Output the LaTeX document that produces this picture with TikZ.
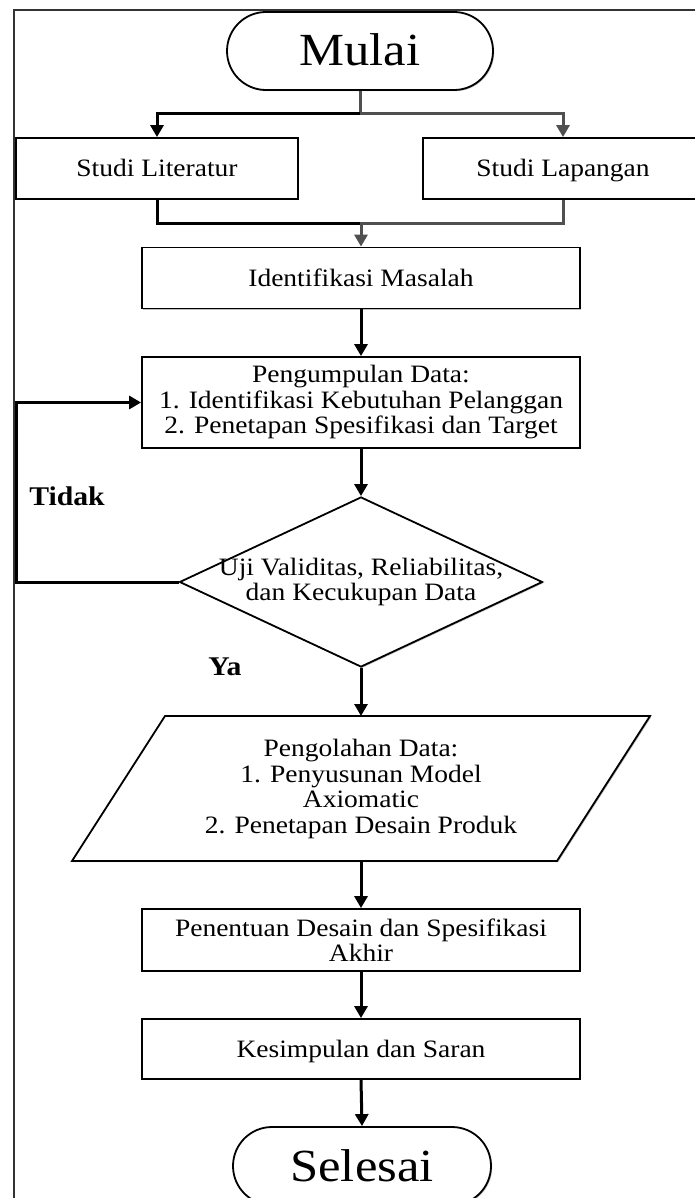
\documentclass[tikz,border=0pt]{standalone}
\usepackage{fontspec}
\setmainfont{Liberation Serif}[FakeStretch=1.1]
\newfontfamily\bigserif{Liberation Serif}[FakeStretch=1.1]
\usetikzlibrary{arrows.meta,shapes.geometric,shadows}
\definecolor{lgray}{HTML}{505050}
\begin{document}
\begin{tikzpicture}[x=1pt,y=-1pt,
  txt/.style={font=\fontsize{25}{25.5}\selectfont,align=center,inner sep=0pt},
  one/.style={text height=21pt,text depth=5pt},
  shad/.style={drop shadow={shadow xshift=1.2pt,shadow yshift=-1.2pt,opacity=0.25,fill=black}},
  box/.style={txt,draw,line width=1.8pt,fill=white,shad},
  term/.style={draw,line width=1.8pt,fill=white,shad,rounded corners=39pt,minimum height=78pt,inner sep=0pt,
    font=\bigserif\fontsize{46}{46}\selectfont,text height=38pt,text depth=8pt},
  conn/.style={line width=3pt},
  arr/.style={conn,-{Triangle[length=12pt,width=13pt]}},
  lbl/.style={font=\fontsize{27}{27}\selectfont\bfseries,inner sep=0pt}]
\useasboundingbox (0,0) rectangle (695,1198);
\fill[white] (0,0) rectangle (695,1198);
\draw[line width=1.2pt,black!80] (14,10) rectangle (710,1220);

% nodes
\node[term,minimum width=266pt] (mulai) at (360,51) {Mulai};
\node[box,one,minimum width=282pt,minimum height=61pt] (lit) at (157,168.5) {Studi Literatur};
\node[box,one,minimum width=280pt,minimum height=61pt] (lap) at (563,168.5) {Studi Lapangan};
\node[box,one,minimum width=438pt,minimum height=61pt] (idm) at (361,278) {Identifikasi Masalah};
\node[box,minimum width=438pt,minimum height=91pt] (kum) at (361,402.5) {Pengumpulan Data:\\1. Identifikasi Kebutuhan Pelanggan\\2. Penetapan Spesifikasi dan Target};
\node[diamond,draw,line width=1.8pt,fill=white,shad,minimum width=363pt,minimum height=170pt,inner sep=0pt] (uji) at (361,582) {};
\node[txt] (ujitext) at (361,582) {Uji Validitas, Reliabilitas,\\dan Kecukupan Data};

\draw[line width=1.8pt,fill=white,shad] (165,716) -- (650,716) -- (557,861) -- (72,861) -- cycle;
\coordinate (olahtop) at (361,716);
\coordinate (olahbot) at (361,861);
\node[txt] (olah) at (361,789) {Pengolahan Data:\\1. Penyusunan Model\\Axiomatic\\2. Penetapan Desain Produk};

\node[box,minimum width=438pt,minimum height=62pt] (pen) at (361,940) {Penentuan Desain dan Spesifikasi\\Akhir};
\node[box,one,minimum width=438pt,minimum height=60pt] (kes) at (361,1049) {Kesimpulan dan Saran};
\node[term,minimum width=258pt] (sel) at (362,1166) {Selesai};

\node[lbl] (tidak) at (67,496) {Tidak};
\node[lbl] (ya) at (225,667) {Ya};

% connectors
\coordinate (split) at (360,114);
\coordinate (merge) at (361,224);
\draw[conn,lgray] (mulai.south) -- (split);
\draw[arr] (split) -| (lit.north);
\draw[arr,lgray] (split) -| (lap.north);
\draw[conn] (lit.south) |- (merge);
\draw[arr,lgray] (lap.south) |- (merge) -- (idm.north);
\draw[arr] (idm.south) -- (kum.north);
\draw[arr] (kum.south) -- (uji.north);
\coordinate (loopc) at (16,582);
\draw[arr] (uji.west) -- (loopc) |- (kum.west);
\draw[arr] (uji.south) -- (olahtop);
\draw[arr] (olahbot) -- (pen.north);
\draw[arr] (pen.south) -- (kes.north);
\draw[arr] (kes.south) -- (sel.north);
\end{tikzpicture}
\end{document}
